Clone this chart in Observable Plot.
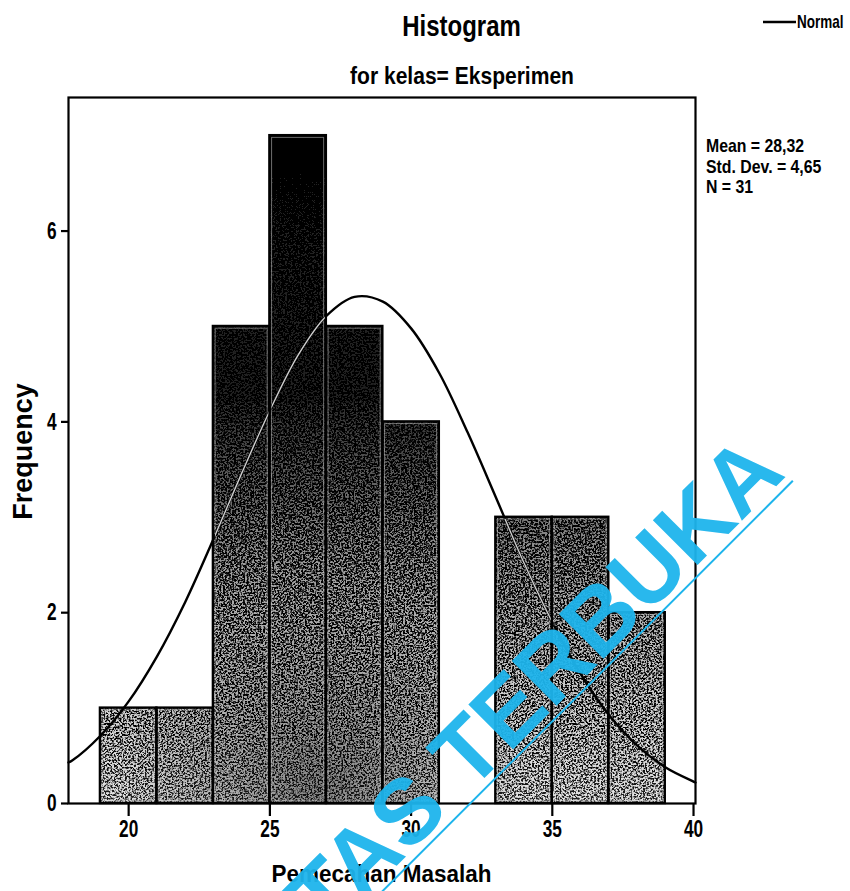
<!DOCTYPE html>
<html>
<head>
<meta charset="utf-8">
<script src="https://cdn.jsdelivr.net/npm/d3@7"></script>
<script src="https://cdn.jsdelivr.net/npm/@observablehq/plot@0.6"></script>
<style>
  html, body { margin: 0; padding: 0; background: #fff; }
  #chart svg { display: block; font-family: "Liberation Sans", Arial, sans-serif; font-weight: bold; }
</style>
</head>
<body>
<div id="chart"></div>
<script>
// ---- Data ----
const binStart = [19, 21, 23, 25, 27, 29, 31, 33, 35, 37];
const binEnd   = [21, 23, 25, 27, 29, 31, 33, 35, 37, 39];
const frequency = [1, 1, 5, 7, 5, 4, 0, 3, 3, 2];

// Normal curve (x, expected frequency)
const normalX = [17.87, 18, 19, 20, 21, 22, 23, 24, 25, 26, 27, 28, 29, 30, 31, 32, 33, 34, 35, 36, 37, 38, 39, 40, 40.07];
const normalY = [0.43, 0.45, 0.71, 1.07, 1.54, 2.11, 2.77, 3.46, 4.12, 4.70, 5.11, 5.31, 5.26, 4.98, 4.51, 3.89, 3.21, 2.52, 1.90, 1.36, 0.93, 0.61, 0.38, 0.23, 0.22];

const xTicks = [20, 25, 30, 35, 40];
const yTicks = [0, 2, 4, 6];

const titleText = "Histogram";
const subtitleText = "for kelas= Eksperimen";
const legendLabel = "Normal";
const statsLines = ["Mean = 28,32", "Std. Dev. = 4,65", "N = 31"];
const xLabel = "Pemecahan Masalah";
const yLabel = "Frequency";
const watermark = "UNIVERSITAS TERBUKA";

// ---- Build tables ----
const bins = binStart.map((s, i) => ({x1: s, x2: binEnd[i], y: frequency[i]})).filter(d => d.y > 0);
const curve = normalX.map((x, i) => ({x, y: normalY[i]}));

const W = 850, H = 891;
const mL = 68, mR = 155, mT = 97, mB = 88;

const plot = Plot.plot({
  width: W,
  height: H,
  marginLeft: mL,
  marginRight: mR,
  marginTop: mT,
  marginBottom: mB,
  style: {background: "#fff", color: "#000"},
  x: {domain: [17.87, 40.07]},
  y: {domain: [0, 7.4]},
  marks: [
    Plot.rectY(bins, {x1: "x1", x2: "x2", y: "y", fill: "url(#barGrad)", inset: 0}),
    Plot.rectY(bins, {x1: "x1", x2: "x2", y: "y", fill: "url(#midDark)", inset: 0}),
    Plot.rectY(bins, {x1: "x1", x2: "x2", y: "y", fill: "none", stroke: "#c8c8c8", strokeOpacity: 0.55, strokeWidth: 1, inset: 2.2}),
    Plot.rectY(bins, {x1: "x1", x2: "x2", y: "y", fill: "none", stroke: "#000", strokeWidth: 2.4, inset: 0}),
    Plot.line(curve, {x: "x", y: "y", stroke: "#000", strokeWidth: 2.4, curve: "catmull-rom"}),
    Plot.frame({stroke: "#000", strokeWidth: 2.2}),
    Plot.axisX({ticks: xTicks, tickSize: 13, tickPadding: 3, tickFormat: d => String(d), label: null, fontSize: 24, strokeWidth: 2.2}),
    Plot.axisY({ticks: yTicks, tickSize: 7, tickPadding: 5, tickFormat: d => String(d), label: null, fontSize: 24, strokeWidth: 2.2})
  ]
});

document.getElementById("chart").appendChild(plot);

const svg = d3.select(plot);
const defs = svg.insert("defs", ":first-child");

// vertical grey ramp used by the bars
const grad = defs.append("linearGradient")
  .attr("id", "barGrad")
  .attr("gradientUnits", "userSpaceOnUse")
  .attr("x1", 0).attr("y1", mT).attr("x2", 0).attr("y2", H - mB);
[[0, "#000"], [0.43, "#040404"], [0.57, "#1a1a1a"], [0.71, "#3c3c3c"], [0.85, "#6a6a6a"], [1, "#a0a0a0"]]
  .forEach(([o, c]) => grad.append("stop").attr("offset", o).attr("stop-color", c));

// extra darkening in the centre bars near the base
const rg = defs.append("radialGradient").attr("id", "midDark").attr("gradientUnits", "userSpaceOnUse")
  .attr("cx", 320).attr("cy", 790).attr("r", 200);
rg.append("stop").attr("offset", 0).attr("stop-color", "#000").attr("stop-opacity", 0.42);
rg.append("stop").attr("offset", 1).attr("stop-color", "#000").attr("stop-opacity", 0);

// grain texture (coarse, high contrast, two soft-light passes)
const filt = defs.append("filter").attr("id", "grain").attr("x", 0).attr("y", 0).attr("width", "100%").attr("height", "100%");
filt.append("feTurbulence").attr("type", "fractalNoise").attr("baseFrequency", 0.55).attr("numOctaves", 2).attr("seed", 11).attr("result", "noise");
filt.append("feColorMatrix").attr("in", "noise").attr("type", "matrix")
  .attr("values", "1 0 0 0 0  1 0 0 0 0  1 0 0 0 0  0 0 0 0 1").attr("result", "gray");
const ct = filt.append("feComponentTransfer").attr("in", "gray").attr("result", "contrast");
["feFuncR", "feFuncG", "feFuncB"].forEach(f => ct.append(f).attr("type", "linear").attr("slope", 5).attr("intercept", -2));
filt.append("feBlend").attr("in", "contrast").attr("in2", "SourceGraphic").attr("mode", "soft-light").attr("result", "blend1");
filt.append("feBlend").attr("in", "contrast").attr("in2", "blend1").attr("mode", "soft-light").attr("result", "blend2");
filt.append("feComposite").attr("in", "blend2").attr("in2", "SourceGraphic").attr("operator", "in");

const barGroup = svg.select('g[fill="url(#barGrad)"]');
barGroup.attr("filter", "url(#grain)");

// the curve shows as a pale line where it crosses the darkest part of the bars
const clip = defs.append("clipPath").attr("id", "darkBars");
const darkLimit = 625;
barGroup.selectAll("rect").each(function() {
  const r = d3.select(this);
  const x = +r.attr("x"), y = +r.attr("y"), w = +r.attr("width"), h = +r.attr("height");
  const y2 = Math.min(y + h, darkLimit);
  if (y2 > y) clip.append("rect").attr("x", x + 1.5).attr("y", y + 1.5).attr("width", w - 3).attr("height", y2 - y - 1.5);
});
const linePath = svg.select('g[aria-label="line"] path');
if (!linePath.empty()) {
  svg.select('g[aria-label="line"]').append("path")
    .attr("d", linePath.attr("d"))
    .attr("fill", "none")
    .attr("stroke", "#cfcfcf")
    .attr("stroke-width", 1.4)
    .attr("clip-path", "url(#darkBars)");
}

// narrow tall tick labels
svg.selectAll('g[aria-label="x-axis tick label"] text, g[aria-label="y-axis tick label"] text').each(function() {
  const t = d3.select(this);
  const tr = t.attr("transform") || "";
  t.attr("transform", tr + " scale(0.72,1)");
});

function addText(x, y, txt, size, sx, anchor, rot) {
  return svg.append("text")
    .attr("transform", `translate(${x},${y})${rot ? ` rotate(${rot})` : ""} scale(${sx},1)`)
    .attr("text-anchor", anchor || "middle")
    .attr("font-family", '"Liberation Sans", Arial, sans-serif')
    .attr("font-weight", "bold")
    .attr("font-size", size)
    .attr("fill", "#000")
    .text(txt);
}

addText(461.5, 36, titleText, 30, 0.80);
addText(462, 84, subtitleText, 23, 0.915);
// legend
svg.append("line").attr("x1", 763).attr("x2", 796).attr("y1", 22).attr("y2", 22).attr("stroke", "#000").attr("stroke-width", 2.6);
addText(797, 28, legendLabel, 18, 0.75, "start");
// stats
statsLines.forEach((s, i) => addText(706, 152 + i * 20.5, s, 18, 0.88, "start"));
// axis labels
addText((mL + W - mR) / 2, 882, xLabel, 24, 0.937);
addText(32, 451.5, yLabel, 27, 1, "middle", -90);

// watermark
const wm = svg.append("g").attr("transform", "translate(790,478) rotate(-45)");
wm.append("text").attr("x", 0).attr("y", -4).attr("text-anchor", "end")
  .attr("font-family", '"Liberation Sans", Arial, sans-serif').attr("font-size", 92)
  .attr("fill", "#1db4ec").attr("fill-opacity", 0.95).text(watermark);
wm.append("line").attr("x1", 0).attr("x2", -1200).attr("y1", 4).attr("y2", 4).attr("stroke", "#1db4ec").attr("stroke-width", 2);
</script>
</body>
</html>
